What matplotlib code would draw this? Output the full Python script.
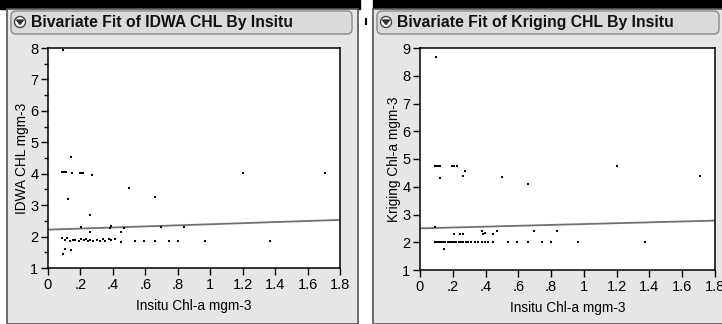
import matplotlib
matplotlib.use("Agg")
import matplotlib.pyplot as plt
from matplotlib.patches import Rectangle, FancyBboxPatch, Circle, Polygon
from matplotlib.ticker import MultipleLocator, FixedLocator

plt.rcParams['font.family'] = ['Liberation Sans', 'DejaVu Sans']

# --- data ---
titles = ["Bivariate Fit of IDWA CHL By Insitu", "Bivariate Fit of Kriging CHL By Insitu"]
x_label = "Insitu Chl-a mgm-3"
y_labels = ["IDWA CHL mgm-3", "Kriging Chl-a mgm-3"]
x_ticks = [0, 0.2, 0.4, 0.6, 0.8, 1.0, 1.2, 1.4, 1.6, 1.8]
x_tick_labels = ["0", ".2", ".4", ".6", ".8", "1", "1.2", "1.4", "1.6", "1.8"]

idwa_x = [0.093, 0.14, 0.085, 0.095, 0.105, 0.113, 0.148, 0.196, 0.206, 0.216,
          0.274, 0.498, 0.659, 0.123, 0.257, 1.203, 1.708,
          0.206, 0.257, 0.38, 0.391, 0.449, 0.47, 0.694, 0.838,
          0.086, 0.103, 0.12, 0.134, 0.154, 0.169, 0.19, 0.206, 0.222, 0.237,
          0.247, 0.257, 0.278, 0.299, 0.319, 0.34, 0.35, 0.375, 0.391, 0.412,
          0.453, 0.539, 0.593, 0.659, 0.747, 0.799, 0.967, 1.37,
          0.093, 0.107, 0.14]
idwa_y = [7.95, 4.52, 4.05, 4.05, 4.05, 4.04, 4.03, 4.03, 4.03, 4.03,
          3.96, 3.54, 3.27, 3.19, 2.69, 4.03, 4.03,
          2.31, 2.15, 2.27, 2.34, 2.15, 2.28, 2.31, 2.29,
          1.94, 1.89, 1.94, 1.86, 1.89, 1.89, 1.86, 1.92, 1.89, 1.92,
          1.86, 1.89, 1.86, 1.89, 1.86, 1.92, 1.86, 1.92, 1.89, 1.92,
          1.83, 1.86, 1.86, 1.86, 1.86, 1.86, 1.86, 1.86,
          1.46, 1.62, 1.57]
idwa_fit_x = [0.0, 1.8]
idwa_fit_y = [2.22, 2.53]

krig_x = [0.098, 0.092, 0.1, 0.11, 0.122, 0.193, 0.2, 0.21, 0.224, 1.204,
          0.122, 0.275, 0.26, 0.498, 0.657, 1.708, 0.092,
          0.207, 0.244, 0.26, 0.376, 0.386, 0.397, 0.447, 0.468, 0.696, 0.838,
          0.09, 0.1, 0.11, 0.12, 0.13, 0.14, 0.15, 0.17, 0.18, 0.19, 0.2, 0.21,
          0.22, 0.235, 0.25, 0.265, 0.28, 0.295, 0.31, 0.336, 0.354, 0.376,
          0.397, 0.415, 0.447, 0.535, 0.59, 0.657, 0.746, 0.8, 0.966, 1.373,
          0.148]
krig_y = [8.69, 4.75, 4.75, 4.75, 4.75, 4.75, 4.75, 4.75, 4.75, 4.75,
          4.3, 4.57, 4.39, 4.36, 4.09, 4.39, 2.55,
          2.31, 2.28, 2.31, 2.41, 2.31, 2.35, 2.31, 2.41, 2.41, 2.41,
          2.0, 2.0, 2.0, 2.0, 2.0, 2.0, 2.0, 2.0, 2.0, 2.0, 2.0, 2.0,
          2.0, 2.0, 2.0, 2.0, 2.0, 2.0, 2.0, 2.0, 2.0, 2.0,
          2.0, 2.0, 2.0, 2.0, 2.0, 2.0, 2.0, 2.0, 2.0, 2.0,
          1.75]
krig_fit_x = [0.0, 1.8]
krig_fit_y = [2.50, 2.78]

W, H = 722, 324
fig = plt.figure(figsize=(W / 100, H / 100), dpi=100)
fig.patch.set_facecolor('white')

# --- 1. panel chrome drawn in pixel coordinates ---
bg = fig.add_axes([0, 0, 1, 1])
bg.set_xlim(0, W)
bg.set_ylim(H, 0)
bg.axis('off')

bg.add_patch(Rectangle((0, 0), 360, 9, color='black'))
bg.add_patch(Rectangle((373, 0), W - 373, 9, color='black'))

panels = [(7, 358), (373, 725)]
for (x0, x1), title in zip(panels, titles):
    bg.add_patch(Rectangle((x0, 9), x1 - x0, H - 9, facecolor='#e6e6e6',
                           edgecolor='#555555', lw=1.2))
    bg.add_patch(FancyBboxPatch((x0 + 4, 11), x1 - x0 - 10, 23,
                                boxstyle="round,pad=0,rounding_size=5",
                                facecolor='#dadada', edgecolor='#8a8a8a', lw=1))
    bg.add_patch(Circle((x0 + 13, 22), 5.5, facecolor='white', edgecolor='#444444', lw=1))
    bg.add_patch(Polygon([(x0 + 9.5, 20), (x0 + 16.5, 20), (x0 + 13, 24.5)],
                         color='#333333'))
    bg.text(x0 + 24, 22.5, title, fontsize=11.3, fontweight='bold',
            va='center', ha='left', color='#111111')
bg.plot([366, 366], [19, 24], color='black', lw=1.5)

# --- 2. scatter plots ---
axes_pos = [[48 / W, 1 - 268 / H, 292 / W, 220 / H],
            [420 / W, 1 - 270 / H, 295 / W, 222 / H]]
series = [(idwa_x, idwa_y, idwa_fit_x, idwa_fit_y, (1, 8)),
          (krig_x, krig_y, krig_fit_x, krig_fit_y, (1, 9))]

for pos, (xs, ys, fx, fy, ylim), ylab in zip(axes_pos, series, y_labels):
    ax = fig.add_axes(pos)
    ax.set_facecolor('white')
    ax.plot(fx, fy, color='#707070', lw=1.3)
    ax.plot(xs, ys, 's', color='black', ms=2.0, mew=0)
    ax.set_xlim(0, 1.8)
    ax.set_ylim(*ylim)
    ax.xaxis.set_major_locator(FixedLocator(x_ticks))
    ax.set_xticklabels(x_tick_labels)
    ax.yaxis.set_major_locator(MultipleLocator(1))
    if ylim[1] == 8:
        ax.yaxis.set_minor_locator(MultipleLocator(0.5))
    ax.tick_params(axis='both', which='major', direction='out', length=5,
                   width=1, labelsize=10.5, pad=2, colors='black')
    ax.tick_params(axis='y', which='minor', direction='out', length=3, width=1)
    for s in ax.spines.values():
        s.set_color('black')
        s.set_linewidth(1.1)
    ax.set_xlabel(x_label, fontsize=9.8, labelpad=5)
    ax.set_ylabel(ylab, fontsize=9.8, labelpad=1)

fig.savefig('out.png', dpi=100)
